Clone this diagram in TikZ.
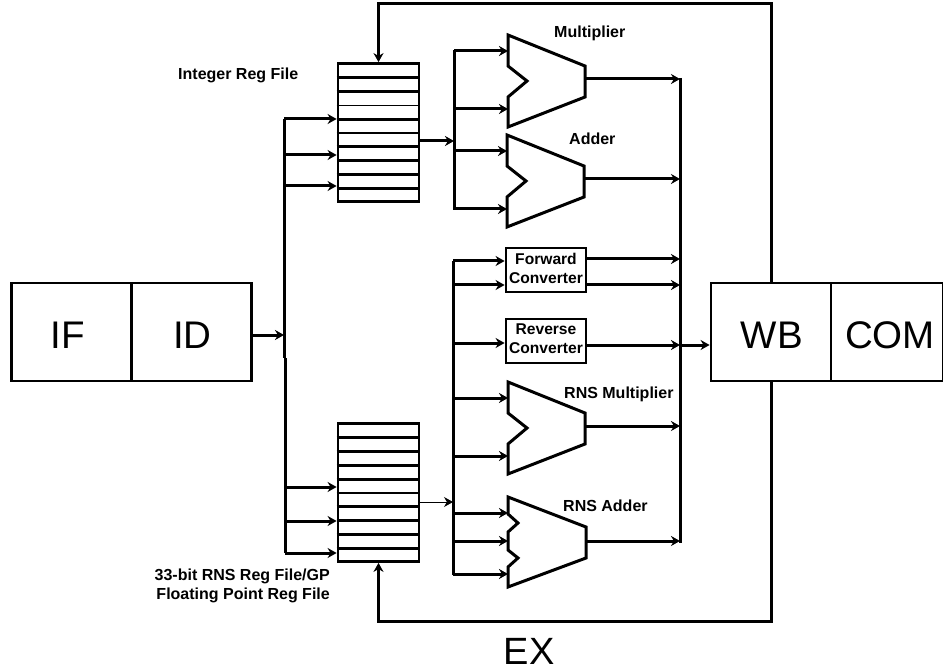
\documentclass[tikz,border=0pt]{standalone}
\usepackage{fontspec}
\setmainfont{Liberation Sans}
\usetikzlibrary{arrows.meta}
\tikzset{
  wire/.style={line width=3pt},
  flow/.style={wire,->},
  regrow/.style={line width=2.7pt},
  stage/.style={draw,line width=2.8pt,minimum height=98pt,inner sep=0pt,text height=33pt,text depth=0pt,font=\fontsize{38.5}{38.5}\selectfont},
  conv/.style={draw,line width=2.8pt,minimum width=80pt,minimum height=44pt,inner sep=0pt,align=center,font=\fontsize{15.6}{19}\selectfont\bfseries,execute at end node={\rule[-4pt]{0pt}{4pt}}},
  regbox/.style={draw,line width=2.8pt,minimum width=81pt,minimum height=138pt,inner sep=0pt},
  tag/.style={inner sep=0pt,anchor=base west,font=\fontsize{16}{19.5}\selectfont\bfseries},
}
\begin{document}
\begin{tikzpicture}[x=1pt,y=-1pt,>={Stealth[length=9pt,width=10pt]}]
  \useasboundingbox (0,0) rectangle (943,671);
  % pipeline stages
  \node[stage,minimum width=120pt] (if) at (71.5,332) {\hspace*{-7pt}IF};
  \node[stage,minimum width=120pt] (id) at (191.5,332) {\hspace*{2pt}ID};
  \node[stage,minimum width=120pt] (wb) at (771,332) {\hspace*{2pt}WB};
  \node[stage,minimum width=112pt] (com) at (887,332) {\hspace*{6pt}COM};
  % register files
  \node[regbox] (intreg) at (378.5,132.5) {};
  \node[regbox] (rnsreg) at (378.5,492.5) {};
  \foreach \i in {1,2,4,5,...,9}
    \draw[regrow] (intreg.west |- 0,64+13.8*\i) -- (intreg.east |- 0,64+13.8*\i);
  \foreach \i in {1,...,9}
    \draw[regrow] (rnsreg.west |- 0,424+13.8*\i) -- (rnsreg.east |- 0,424+13.8*\i);
  \draw[line width=0.9pt] (intreg.west |- 0,105) -- (intreg.east |- 0,105);
  % converters
  \node[conv] (fwd) at (546,270) {Forward\\Converter};
  \node[conv] (rev) at (546,341) {Reverse\\Converter};
  % function units
  \foreach \n/\x/\y in {mul/508/35,add/507/135,rmul/508/382}{
    \draw[wire,line join=miter] (\x,\y) -- (\x+77,\y+31) -- (\x+77,\y+62) -- (\x,\y+92)
      -- (\x,\y+62) -- (\x+19,\y+46) -- (\x,\y+31) -- cycle;
    \coordinate (\n a) at (\x,\y+16);
    \coordinate (\n b) at (\x,\y+74);
    \coordinate (\n o) at (\x+77,\y+44);
  }
  \draw[wire,line join=miter] (508,497) -- (586,527) -- (586,558) -- (508,587) -- (508,567)
    -- (518,558) -- (508,550) -- (508,532) -- (518,523) -- (508,514) -- cycle;
  \coordinate (radda) at (508,513);
  \coordinate (raddb) at (508,541);
  \coordinate (raddc) at (508,574);
  \coordinate (raddo) at (586,541);
  % buses
  \coordinate (lbus) at (284,119);
  \coordinate (lbusmid) at (284,358);
  \coordinate (lbuslow) at (285,358);
  \coordinate (lbusend) at (285,553);
  \coordinate (ubus) at (454,50);
  \coordinate (ubusend) at (454,210);
  \coordinate (dbus) at (453,261);
  \coordinate (dbusend) at (453,575);
  \coordinate (rbus) at (680,78);
  \coordinate (rbusend) at (680,543);
  \draw[wire] (lbus) -- (lbusmid);
  \draw[wire] (lbuslow) -- (lbusend);
  \draw[wire] (ubus) -- (ubusend);
  \draw[wire] (dbus) -- (dbusend);
  \draw[wire] (rbus) -- (rbusend);
  % instruction decode to the register files
  \coordinate (idout) at (id.east |- 0,335);
  \draw[flow] (idout) -- (idout -| lbus);
  \foreach \y in {119,155,186}{
    \coordinate (p) at (lbus |- 0,\y);
    \draw[flow] (p) -- (p -| intreg.west);
  }
  \foreach \y in {487,521,553}{
    \coordinate (p) at (lbuslow |- 0,\y);
    \draw[flow] (p) -- (p -| rnsreg.west);
  }
  % register files to the buses
  \coordinate (intout) at (intreg.east |- 0,141);
  \coordinate (rnsout) at (rnsreg.east |- 0,502);
  \draw[flow] (intout) -- (intout -| ubus);
  \draw[->,line width=0.9pt] (rnsout) -- (rnsout -| dbus);
  % buses to the function units
  \foreach \p in {mula,mulb,adda,addb}
    \draw[flow] (ubus |- \p) -- (\p);
  \foreach \p in {rmula,rmulb,radda,raddb,raddc}
    \draw[flow] (dbus |- \p) -- (\p);
  \foreach \y in {261,285}{
    \coordinate (p) at (dbus |- 0,\y);
    \draw[flow] (p) -- (p -| fwd.west);
  }
  \coordinate (p) at (dbus |- 0,343);
  \draw[flow] (p) -- (p -| rev.west);
  % outputs
  \foreach \p in {mulo,addo,rmulo,raddo}
    \draw[flow] (\p) -- (\p -| rbus);
  \foreach \y in {259,285}{
    \coordinate (p) at (fwd.east |- 0,\y);
    \draw[flow] (p) -- (p -| rbus);
  }
  \coordinate (revout) at (rev.east |- 0,345);
  \draw[flow] (revout) -- (revout -| rbus);
  \draw[flow] (revout -| rbus) -- (revout -| wb.west);
  % write back loops
  \coordinate (wbtop) at (wb.north);
  \coordinate (wbbot) at (wb.south);
  \draw[flow,line join=miter] (wbtop) -- (771,4) -- (intreg.north |- 0,4) -- (intreg.north);
  \draw[flow,line join=miter] (wbbot) -- (771,621) -- (rnsreg.south |- 0,621) -- (rnsreg.south);
  % labels
  \node[tag] (intlab) at (178,80) {Integer Reg File};
  \node[tag] (mullab) at (554,37.3) {Multiplier};
  \node[tag] (addlab) at (569,145) {Adder};
  \node[tag] (rmullab) at (564,398.3) {RNS Multiplier};
  \node[tag] (raddlab) at (563,511) {RNS Adder};
  \node[tag,align=right,anchor=east] (rnslab) at (330,586) {33-bit RNS Reg File/GP\\Floating Point Reg File};
  \node[inner sep=0pt,font=\fontsize{38}{38}\selectfont] (exlab) at (529,651) {EX};
\end{tikzpicture}
\end{document}
